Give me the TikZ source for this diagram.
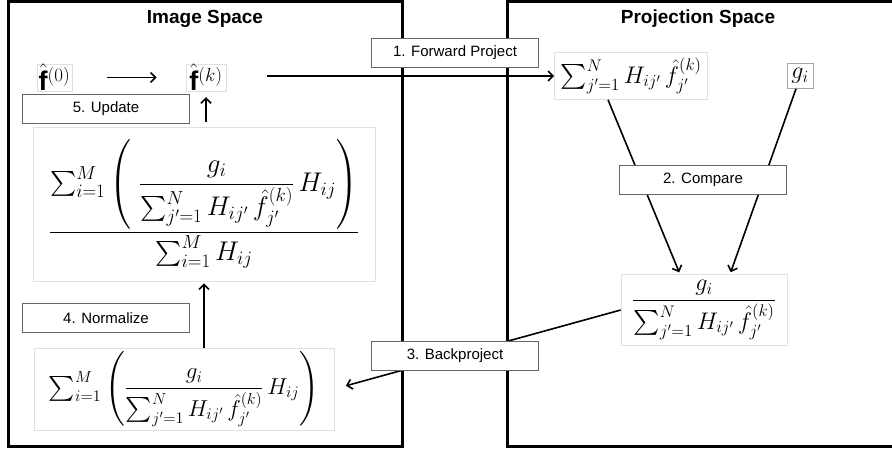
\RequirePackage{fix-cm}
\documentclass[tikz,border=0pt]{standalone}
\usepackage{amsmath}
\usepackage{fontspec}
\setmainfont{Liberation Sans}
\usetikzlibrary{arrows.meta}
\newcommand{\msz}{\fontsize{24}{28}\selectfont}
\newcommand{\denom}{\sum\nolimits_{j'=1}^{N} H_{ij'}\,\hat{f}_{j'}^{(k)}}
\begin{document}
\begin{tikzpicture}[x=1pt,y=-1pt,
  bigbox/.style={draw=black, line width=3pt},
  lbl/.style={draw=black!60, line width=0.7pt, fill=white, minimum width=167pt, minimum height=29pt, inner sep=0pt, font=\fontsize{15}{17}\selectfont},
  title/.style={font=\bfseries\fontsize{19}{22}\selectfont},
  fbox/.style={draw=black!12, line width=0.6pt, fill=white, inner sep=0pt, font=\msz},
  arr/.style={line width=1.6pt, -{Straight Barb[length=5pt,width=10pt,line width=1.6pt]}}]
\useasboundingbox (0,0) rectangle (892,450);
\clip (0,0) rectangle (892,450);
% spaces
\draw[bigbox] (8.5,1.5) rectangle (402,446.5);
\draw[bigbox] (507,1.5) rectangle (900,446.5);
\node[title] (t1) at (205,19) {Image Space};
\node[title] (t2) at (698,19) {Projection Space};
% formula nodes
\node[fbox, font=\fontsize{27}{31}\selectfont, minimum width=35pt, minimum height=25pt] (f0) at (54.5,77.5) {$\hat{\mathbf{f}}^{(0)}$};
\node[fbox, font=\fontsize{27}{31}\selectfont, minimum width=40pt, minimum height=25pt] (fk) at (206,77.5) {$\hat{\mathbf{f}}^{(k)}$};
\node[fbox, minimum width=153pt, minimum height=47pt] (sum) at (631,76) {$\denom$};
\node[fbox, draw=black!35, minimum width=26pt, minimum height=25pt] (g) at (800,76) {$g_i$};
\node[fbox, minimum width=166pt, minimum height=71pt] (frac) at (704,310) {$\dfrac{g_i}{\denom}$};
\node[fbox, font=\fontsize{27}{31}\selectfont, minimum width=342pt, minimum height=154pt] (big) at (204,204)
  {$\displaystyle\frac{\sum\nolimits_{i=1}^{M}\left(\;\dfrac{g_i}{\denom}\,H_{ij}\right)}{\sum\nolimits_{i=1}^{M} H_{ij}}$};
\node[fbox, font=\fontsize{23}{27}\selectfont, minimum width=300pt, minimum height=82pt] (bot) at (184,389)
  {$\sum\nolimits_{i=1}^{M}\left(\dfrac{g_i}{\denom}\,H_{ij}\right)$};
% connectors
\draw[arr, shorten <=35pt, shorten >=29pt] (f0) -- (fk);
\draw[arr, shorten <=41pt] (fk.east |- sum.west) -- (sum.west);
\draw[arr, shorten <=5pt, shorten >=6pt] (fk.south |- big.north) -- (fk.south);
\draw[arr, shorten >=2pt] (big.south |- bot.north) -- (big.south);
\draw[arr, shorten >=2pt] ([xshift=-23pt]sum.south) -- ([xshift=-24pt]frac.north);
\draw[arr, shorten >=2pt] ([xshift=-4pt]g.south) -- ([xshift=26pt]frac.north);
\draw[arr, shorten >=12pt] (frac.west) -- (bot.east);
% labels
\node[lbl] (l1) at (455,53) {1. Forward Project};
\node[lbl] (l2) at (703,180) {2. Compare};
\node[lbl] (l3) at (455,356) {3. Backproject};
\node[lbl] (l4) at (106,318) {4. Normalize};
\node[lbl] (l5) at (106,109) {5. Update};
\end{tikzpicture}
\end{document}
